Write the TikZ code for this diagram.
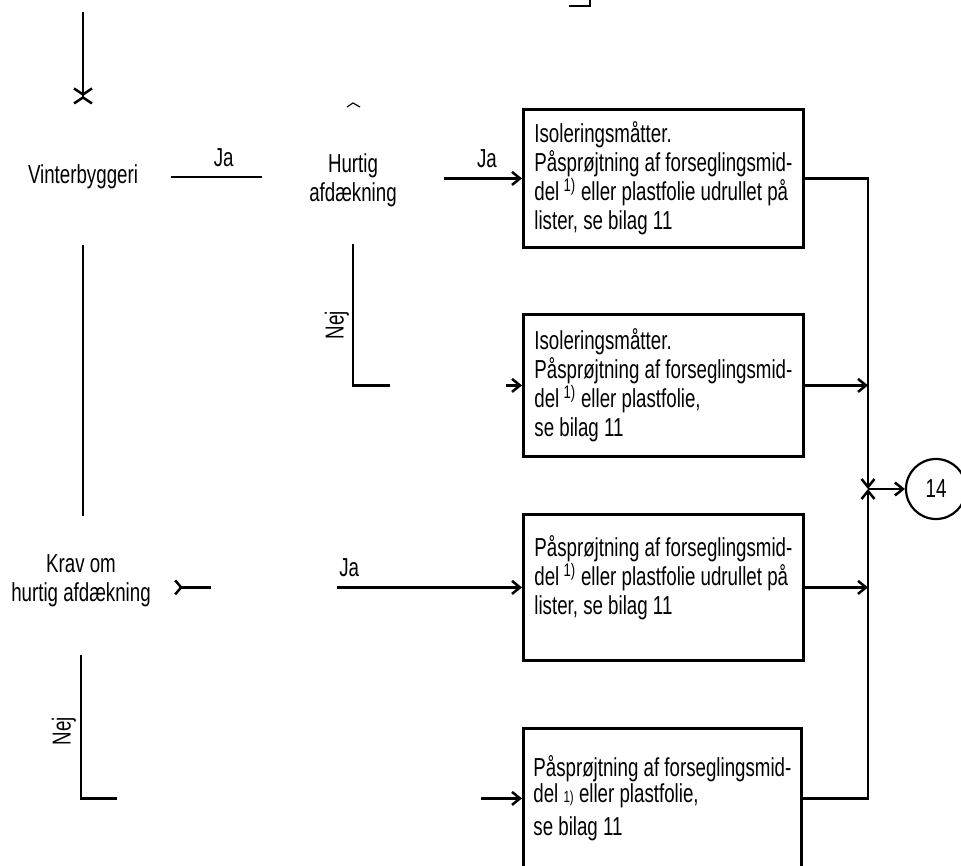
\documentclass[tikz,border=0pt]{standalone}
\usepackage{fontspec}
\setmainfont{Liberation Sans}[FakeStretch=0.72]
\usetikzlibrary{arrows.meta,calc,positioning}

\begin{document}
\begin{tikzpicture}[
    x=1pt, y=-1pt,
    font=\fontsize{26}{29}\selectfont,
    line/.style={line width=2.5pt},
    arr/.style={
        line width=2.5pt,
        -{Straight Barb[length=8pt,width=13pt]}
    },
    crossarr/.style={
        line width=2.5pt,
        -{Straight Barb[length=6pt,width=18pt,sep=0pt]Straight Barb[reversed,length=6pt,width=18pt]}
    },
    tailarr/.style={
        line width=2.5pt,
        {Straight Barb[reversed,length=6pt,width=14pt]}-
    },
    decision/.style={
        align=center,
        inner sep=0pt
    },
    box/.style={
        draw,
        line width=2.8pt,
        anchor=north west,
        minimum width=280pt,
        align=left,
        inner sep=0pt
    },
    lbl/.style={inner sep=1pt},
    outlet/.style={
        draw,
        circle,
        line width=2.2pt,
        minimum size=60pt,
        inner sep=0pt
    }
]
    \useasboundingbox (0,0) rectangle (961,865);

    %% Beslutninger
    \node[decision] (winter) at (83,177) {Vinterbyggeri};
    \node[decision] (quick) at (353,180) {Hurtig\\afdækning};
    \node[decision] (demand) at (81,581) {Krav om\\hurtig afdækning};

    %% Foranstaltninger
    \node[box, minimum height=138pt] (isol1) at (522,108)
        {Isoleringsmåtter.\\Påsprøjtning af forseglingsmid-\\del\,\textsuperscript{1)} eller plastfolie udrullet på\\lister, se bilag 11};
    \node[box, minimum height=142pt] (isol2) at (522,313)
        {Isoleringsmåtter.\\Påsprøjtning af forseglingsmid-\\del\,\textsuperscript{1)} eller plastfolie,\\se bilag 11};
    \node[box, minimum height=146pt] (spray1) at (522,513)
        {Påsprøjtning af forseglingsmid-\\del\,\textsuperscript{1)} eller plastfolie udrullet på\\lister, se bilag 11\\[-5pt]\mbox{}};
    \node[box, minimum height=140pt, minimum width=278pt] (spray2) at (522,727)
        {Påsprøjtning af forseglingsmid-\\[-3pt]del {\fontsize{16}{16}\selectfont 1)} eller plastfolie,\\[4pt]se bilag 11};

    %% Videre til 14
    \node[outlet] (end) at (936,489) {14};

    \coordinate (start) at (83,12);
    \coordinate (join) at (868,489);
    \coordinate (quickbend) at (quick.south |- isol2.west);
    \coordinate (quickstub) at ($(quickbend)+(37,0)$);
    \coordinate (isol2in) at ($(isol2.west)+(-16,0)$);
    \coordinate (demandstub) at ($(demand.east |- spray1.west)+(60,0)$);
    \coordinate (spray1in) at ($(spray1.west)+(-185,0)$);
    \coordinate (demandbend) at (demand.south |- spray2.west);
    \coordinate (demandnej) at ($(demandbend)+(36,0)$);
    \coordinate (spray2in) at ($(spray2.west)+(-41,0)$);

    %% Nej-tekster
    \node[lbl, rotate=90] (nejquick) at (337,325) {Nej};
    \node[lbl, rotate=90] (nejdemand) at (64,731) {Nej};

    %% Pile
    \draw[crossarr, shorten >=60pt] (start) -- (winter.north);
    \draw[line, shorten <=33pt, shorten >=47pt] (winter.east) -- node[lbl, above=8pt] {Ja} (winter.east -| quick.west);
    \draw[arr, shorten <=47pt] (quick.east |- isol1.west) -- node[lbl, above=8pt, pos=0.72] {Ja} (isol1.west);
    \draw[line, shorten <=37pt] (quick.south) -- (quickbend) -- (quickstub);
    \draw[arr] (isol2in) -- (isol2.west);
    \draw[line, shorten <=56pt, shorten >=39pt] (winter.south) -- (winter.south |- demand.north);
    \draw[tailarr, shorten <=23pt] (demand.east |- spray1.west) -- (demandstub);
    \draw[arr] (spray1in) -- node[lbl, above right=8pt and 0pt, at start] {Ja} (spray1.west);
    \draw[line, shorten <=48pt] (demand.south) -- (demandbend) -- (demandnej);
    \draw[arr] (spray2in) -- (spray2.west);
    \draw[arr] (isol1.east) -| (join);
    \draw[arr] (isol2.east) -- (isol2.east -| join);
    \draw[arr] (spray1.east) -- (spray1.east -| join);
    \draw[arr] (spray2.east) -| (join);
    \draw[arr] (join) -- (end);

    %% Rester af streger
    \draw[line width=1.2pt] (347,107) -- (353,103) -- (360,107);
    \draw[line width=2pt] (569,6) -- (590,6) -- (590,0);
\end{tikzpicture}
\end{document}
